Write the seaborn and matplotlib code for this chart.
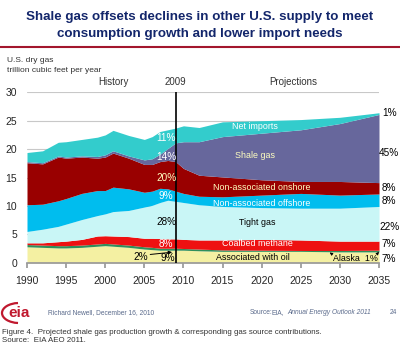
import numpy as np
import matplotlib
matplotlib.use("Agg")
import matplotlib.pyplot as plt
from matplotlib.patches import Arc
import seaborn as sns

# Data (trillion cubic feet per year, layer thickness)
years = [1990, 1992, 1994, 1995, 1997, 1999, 2000, 2001, 2003, 2005, 2006,
         2007, 2008, 2009, 2010, 2012, 2015, 2020, 2025, 2030, 2035]
assoc_oil = [2.8, 2.7, 2.6, 2.6, 2.7, 2.9, 3.0, 2.9, 2.7, 2.4, 2.3,
             2.2, 2.2, 2.2, 2.2, 2.1, 2.0, 2.0, 2.0, 1.9, 1.9]
alaska = [0.4, 0.4, 0.4, 0.4, 0.4, 0.4, 0.4, 0.4, 0.4, 0.4, 0.4,
          0.35, 0.35, 0.35, 0.3, 0.3, 0.25, 0.2, 0.15, 0.25, 0.3]
coalbed = [0.3, 0.4, 0.7, 0.8, 1.0, 1.4, 1.35, 1.4, 1.5, 1.5, 1.6,
           1.7, 1.65, 1.65, 1.6, 1.6, 1.75, 1.9, 1.85, 1.65, 1.6]
tight = [2.0, 2.4, 2.7, 3.0, 3.5, 3.6, 3.85, 4.3, 4.6, 5.5, 5.8,
         6.35, 6.8, 6.6, 6.5, 6.2, 5.9, 5.6, 5.6, 5.8, 6.1]
offshore = [4.7, 4.4, 4.5, 4.5, 4.6, 4.4, 4.1, 4.3, 3.8, 2.6, 2.5,
            2.5, 2.0, 1.8, 1.6, 1.5, 1.7, 2.2, 2.6, 2.3, 2.2]
onshore = [7.4, 7.1, 7.7, 7.1, 6.4, 5.7, 5.9, 6.0, 5.4, 4.9, 4.7,
           4.7, 5.0, 5.2, 4.4, 3.7, 3.5, 2.7, 2.1, 2.4, 2.0]
shale = [0.2, 0.2, 0.2, 0.2, 0.2, 0.3, 0.4, 0.4, 0.4, 0.8, 1.0,
         1.3, 2.1, 3.3, 4.7, 5.9, 7.1, 8.2, 9.1, 10.2, 12.0]
net_imports = [1.6, 2.1, 2.4, 2.7, 2.9, 3.4, 3.5, 3.6, 3.6, 3.6, 3.9,
               4.0, 3.3, 2.6, 2.8, 2.5, 2.6, 2.2, 1.8, 1.1, 0.3]

layer_colors = ["#f4f0a2", "#2f8f5b", "#ee1111", "#c9f6f6",
                "#00bdee", "#990000", "#67679c", "#33cccc"]

hist_pcts = ["11%", "14%", "20%", "9%", "28%", "8%"]
hist_y = [21.9, 18.6, 14.9, 11.7, 7.2, 3.3]
hist_colors = ["white", "white", "#ffffc0", "white", "black", "white"]
end_pcts = ["1%", "45%", "8%", "8%", "22%", "7%", "7%"]
end_y = [26.3, 19.3, 13.1, 10.8, 6.3, 3.3, 0.65]

sns.set_theme(style="white")
plt.rcParams["font.family"] = ["Liberation Sans", "DejaVu Sans"]

fig = plt.figure(figsize=(4, 3.56), dpi=100)
ax = fig.add_axes([27 / 400, 1 - 262.7 / 356, 352 / 400, 170.4 / 356])

ax.stackplot(years, assoc_oil, alaska, coalbed, tight, offshore, onshore,
             shale, net_imports, colors=layer_colors, linewidth=0, zorder=2)

ax.set_xlim(1990, 2035)
ax.set_ylim(0, 30)
ax.set_xticks(range(1990, 2036, 5))
ax.set_yticks(range(0, 31, 5))
ax.tick_params(axis="x", labelsize=7.5, length=3.5, color="#999999",
               direction="out", bottom=True, pad=6)
ax.tick_params(axis="y", labelsize=7.5, length=0, pad=7)
ax.yaxis.grid(True, color="#c8c8c8", linewidth=0.8, zorder=0)
ax.set_axisbelow(True)
sns.despine(ax=ax, left=True)
ax.spines["bottom"].set_color("#999999")
ax.spines["bottom"].set_zorder(3)

ax.axvline(2009, ymin=0, ymax=1, color="black", linewidth=1.2, zorder=4)
ax.text(2009, 30.9, "2009", ha="center", va="bottom", fontsize=7, color="#333333")
ax.text(2001, 30.9, "History", ha="center", va="bottom", fontsize=7, color="#333333")
ax.text(2024, 30.9, "Projections", ha="center", va="bottom", fontsize=7, color="#333333")

# layer names
lab = dict(ha="center", va="center", fontsize=6.4)
ax.text(2019.2, 23.9, "Net imports", color="white", **lab)
ax.text(2019.2, 18.8, "Shale gas", color="#ffffc0", **lab)
ax.text(2020.0, 13.3, "Non-associated onshore", color="#ffffc0", **lab)
ax.text(2020.0, 10.5, "Non-associated offshore", color="white", **lab)
ax.text(2019.4, 7.0, "Tight gas", color="black", **lab)
ax.text(2019.5, 3.3, "Coalbed methane", color="white", **lab)
ax.text(2018.9, 0.9, "Associated with oil", color="black", **lab)
ax.text(2029.1, 0.75, "Alaska  1%", ha="left", va="center", fontsize=6.4, color="black")
ax.annotate("", xy=(2028.7, 1.8), xytext=(2029.2, 1.3),
            arrowprops=dict(arrowstyle="-|>", color="black", lw=0.6, mutation_scale=4))
ax.annotate("", xy=(2035.0, 1.9), xytext=(2034.6, 1.3),
            arrowprops=dict(arrowstyle="-|>", color="black", lw=0.6, mutation_scale=4))

for t, yv, c in zip(hist_pcts, hist_y, hist_colors):
    ax.text(2007.8, yv, t, ha="center", va="center", fontsize=7.2, color=c, zorder=5)
ax.text(2008.0, 0.8, "9%", ha="center", va="center", fontsize=7.2, color="black", zorder=5)
ax.text(2004.5, 1.0, "2%", ha="center", va="center", fontsize=7.2, color="black", zorder=5)
ax.annotate("", xy=(2008.9, 1.9), xytext=(2005.4, 1.4),
            arrowprops=dict(arrowstyle="-|>", color="black", lw=0.7, mutation_scale=5))

for t, yv in zip(end_pcts, end_y):
    ax.text(2036.3, yv, t, ha="center", va="center", fontsize=7.2,
            color="black", clip_on=False)

# slide title and frame text
fig.text(0.5, 1 - 17 / 356, "Shale gas offsets declines in other U.S. supply to meet",
         ha="center", va="center", fontsize=9.6, fontweight="bold", color="#13266b")
fig.text(0.5, 1 - 34 / 356, "consumption growth and lower import needs",
         ha="center", va="center", fontsize=9.6, fontweight="bold", color="#13266b")
fig.add_artist(plt.Line2D([0, 1], [1 - 46.5 / 356] * 2, transform=fig.transFigure,
                          color="#a3162c", linewidth=1.5))
fig.text(7 / 400, 1 - 60 / 356, "U.S. dry gas", ha="left", va="center",
         fontsize=6, color="#333333")
fig.text(7 / 400, 1 - 71 / 356, "trillion cubic feet per year", ha="left", va="center",
         fontsize=6, color="#333333")

# footer
fig.text(19 / 400, 1 - 313 / 356, "eia", ha="center", va="center", fontsize=11,
         fontweight="bold", color="#c0182e")
fig.add_artist(Arc((19 / 400, 1 - 313 / 356), 34 / 400, 20 / 356, theta1=95, theta2=265,
                   transform=fig.transFigure, color="#c0182e", linewidth=1.6))
fig.text(48 / 400, 1 - 313 / 356, "Richard Newell, December 16, 2010", ha="left",
         va="center", fontsize=4.8, color="#5b6b8c")
fig.text(250 / 400, 1 - 313 / 356, "Source:", ha="left", va="center",
         fontsize=4.8, color="#5b6b8c")
fig.text(272 / 400, 1 - 313 / 356, "EIA,", ha="left", va="center",
         fontsize=4.8, color="#5b6b8c")
fig.text(287 / 400, 1 - 313 / 356, "Annual Energy Outlook 2011", ha="left", va="center",
         fontsize=4.8, color="#5b6b8c", style="italic")
fig.text(390 / 400, 1 - 313 / 356, "24", ha="left", va="center",
         fontsize=4.8, color="#5b6b8c")

fig.text(2 / 400, 1 - 333 / 356,
         "Figure 4.  Projected shale gas production growth & corresponding gas source contributions.",
         ha="left", va="center", fontsize=5.7, color="#333333")
fig.text(2 / 400, 1 - 341 / 356, "Source:  EIA AEO 2011.", ha="left", va="center",
         fontsize=5.7, color="#333333")

fig.savefig("out.png", dpi=100)
